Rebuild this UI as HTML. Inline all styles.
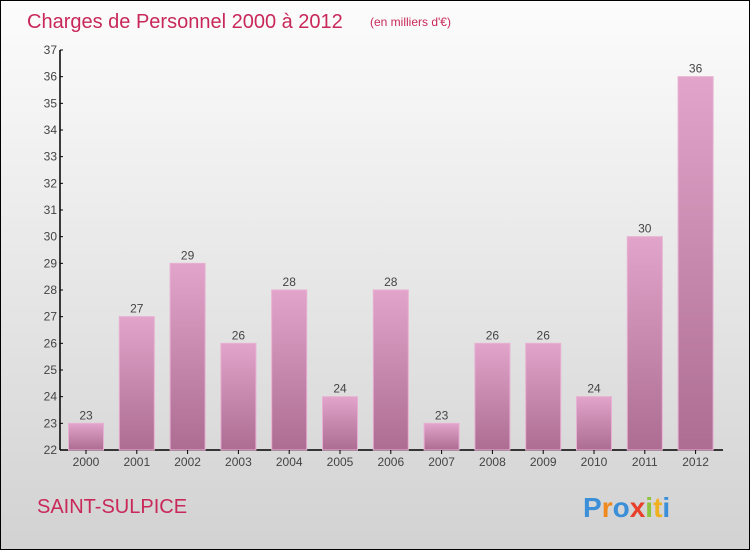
<!DOCTYPE html>
<html><head><meta charset="utf-8">
<style>
body{margin:0;width:750px;height:550px;overflow:hidden;font-family:"Liberation Sans",sans-serif;}
#wrap{position:relative;width:748px;height:548px;border:1px solid #000;background:linear-gradient(#fcfcfc,#d2d2d2);}
</style></head><body>
<div id="wrap">
<svg id="chart" width="748" height="548">
<defs>
<linearGradient id="bg" x1="0" y1="0" x2="0" y2="1"><stop offset="0" stop-color="#e2a4ca"/><stop offset="1" stop-color="#ad6d93"/></linearGradient>
</defs>
<text x="26" y="27" font-size="20" fill="#c8285a">Charges de Personnel 2000 à 2012</text>
<text x="369" y="25" font-size="12" fill="#c8285a">(en milliers d'€)</text>
<text x="36" y="512" font-size="20" fill="#c8285a">SAINT-SULPICE</text>
<g font-size="28" font-weight="bold">
<text x="582" y="516"><tspan fill="#3a8fd8">P</tspan><tspan fill="#f08a20">r</tspan><tspan fill="#3a8fd8">o</tspan><tspan fill="#e8402a">x</tspan><tspan fill="#8cc43c">i</tspan><tspan fill="#f0b020">t</tspan><tspan fill="#3a8fd8">i</tspan></text>
</g>
<g id="plot"></g>
</svg>
</div>
<script>
const categories=["2000","2001","2002","2003","2004","2005","2006","2007","2008","2009","2010","2011","2012"];
const values=[23,27,29,26,28,24,28,23,26,26,24,30,36];
const yTicks=[22,23,24,25,26,27,28,29,30,31,32,33,34,35,36,37];
const ns="http://www.w3.org/2000/svg";
const g=document.getElementById('plot');
const x0=59,y0=449,yMin=22,yMax=37,yTopPx=49,step=50.8,bw=35;
const yS=v=>y0-(v-yMin)*(y0-yTopPx)/(yMax-yMin);
const xC=i=>x0+26+i*step;
function el(t,a){const e=document.createElementNS(ns,t);for(const k in a)e.setAttribute(k,a[k]);g.appendChild(e);return e;}
let ax=el('line',{x1:x0,y1:yTopPx,x2:x0,y2:y0,stroke:'#000','stroke-width':1.5});


let bx=el('line',{x1:x0,y1:y0,x2:722,y2:y0,stroke:'#000','stroke-width':1.5});


yTicks.forEach(v=>{
 const y=yS(v);
 const t=el('line',{x1:x0,y1:y,x2:x0+3,y2:y,stroke:'#000'});
 
 
 const l=el('text',{x:x0-3,y:y+4,'font-size':12,fill:'#444','text-anchor':'end'});
 l.textContent=v;
 
 
});
categories.forEach((c,i)=>{
 const cx=xC(i),v=values[i],y=yS(v);
 const r=el('rect',{x:cx-bw/2,y:y,width:bw,height:y0-y,fill:'url(#bg)',stroke:'#e8b0d2','stroke-width':1});
 
 
 const vl=el('text',{x:cx,y:y-4,'font-size':12,fill:'#444','text-anchor':'middle'});
 vl.textContent=v;
 
 
 const tk=el('line',{x1:cx,y1:y0,x2:cx,y2:y0+4,stroke:'#000'});
 
 
 const xl=el('text',{x:cx,y:y0+16,'font-size':12,fill:'#444','text-anchor':'middle'});
 xl.textContent=c;
 
 
});
</script>
</body></html>
